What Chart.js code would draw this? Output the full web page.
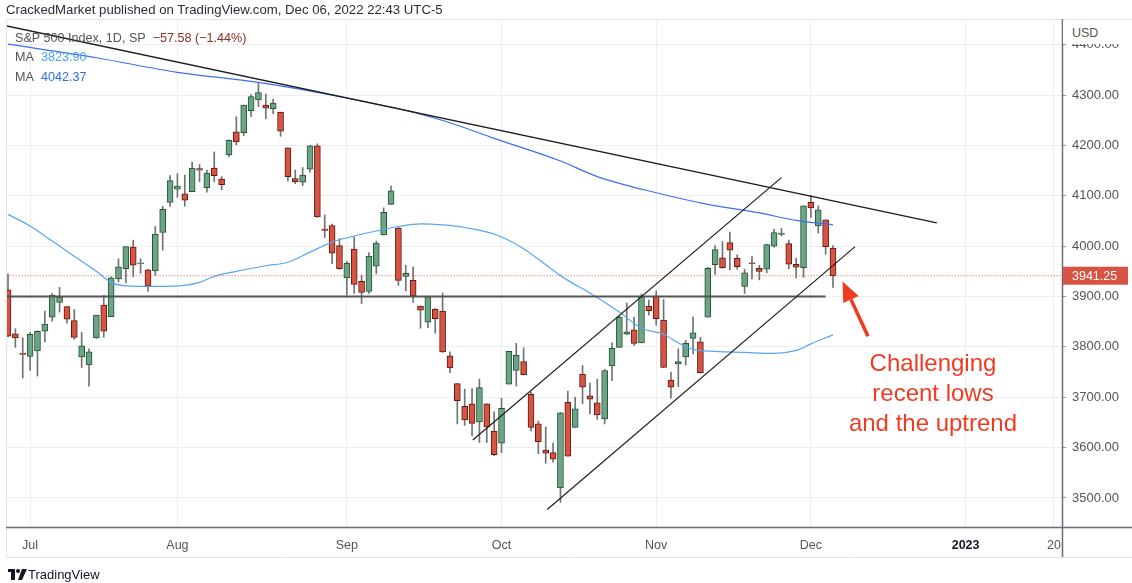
<!DOCTYPE html>
<html>
<head>
<meta charset="utf-8">
<script src="https://cdn.jsdelivr.net/npm/chart.js@4.4.0/dist/chart.umd.min.js"></script>
<style>
  html, body { margin: 0; padding: 0; background: #fff; }
  #wrap { position: relative; width: 1132px; height: 583px; overflow: hidden; font-family: "Liberation Sans", Arial, sans-serif; }
  #c { position: absolute; left: 0; top: 0; }
  .txt { position: absolute; white-space: nowrap; }
  .hdr { left: 6px; top: 2px; font-size: 13.2px; color: #2a2e39; }
  .leg { left: 15px; font-size: 12.6px; color: #555; }
  .usd { left: 1063px; top: 20px; width: 69px; height: 24px; background: #fff; font-size: 12.5px; color: #555; padding: 6px 0 0 9px; box-sizing: border-box; }
  .note { left: 833px; top: 348px; width: 200px; text-align: center; font-size: 24px; line-height: 30px; color: #ef3b24; }
  .foot { left: 28px; top: 567px; font-size: 13px; color: #131722; }
</style>
</head>
<body>
<div id="wrap">
  <canvas id="c" width="1132" height="583"></canvas>
  <div class="txt hdr">CrackedMarket published on TradingView.com, Dec 06, 2022 22:43 UTC-5</div>
  <div class="txt leg" style="top:31px">S&amp;P 500 Index, 1D, SP&nbsp;&nbsp;<span style="color:#8c2d22">−57.58 (−1.44%)</span></div>
  <div class="txt leg" style="top:50px">MA&nbsp;&nbsp;<span style="color:#4aa3f7">3823.90</span></div>
  <div class="txt leg" style="top:70px">MA&nbsp;&nbsp;<span style="color:#2f6bf3">4042.37</span></div>
  <div class="txt usd">USD</div>
  <div class="txt note">Challenging<br>recent lows<br>and the uptrend</div>
  <svg style="position:absolute;left:8px;top:569px" width="19" height="12" viewBox="0 0 19 12">
    <rect x="0" y="0" width="7" height="3" fill="#131722"/>
    <rect x="3" y="0" width="4" height="11" fill="#131722"/>
    <circle cx="10" cy="2" r="2" fill="#131722"/>
    <polygon points="14,0 19,0 14,11 10,11" fill="#131722"/>
  </svg>
  <div class="txt foot">TradingView</div>
</div>
<script>
// S&P 500 daily bars, Jun 28 2022 -> Dec 06 2022 (index = trading day)
const days = ['Jun 28','Jun 29','Jun 30','Jul 1','Jul 5','Jul 6','Jul 7','Jul 8','Jul 11','Jul 12','Jul 13','Jul 14','Jul 15',
  'Jul 18','Jul 19','Jul 20','Jul 21','Jul 22','Jul 25','Jul 26','Jul 27','Jul 28','Jul 29',
  'Aug 1','Aug 2','Aug 3','Aug 4','Aug 5','Aug 8','Aug 9','Aug 10','Aug 11','Aug 12','Aug 15','Aug 16','Aug 17','Aug 18','Aug 19',
  'Aug 22','Aug 23','Aug 24','Aug 25','Aug 26','Aug 29','Aug 30','Aug 31',
  'Sep 1','Sep 2','Sep 6','Sep 7','Sep 8','Sep 9','Sep 12','Sep 13','Sep 14','Sep 15','Sep 16','Sep 19','Sep 20','Sep 21','Sep 22','Sep 23',
  'Sep 26','Sep 27','Sep 28','Sep 29','Sep 30',
  'Oct 3','Oct 4','Oct 5','Oct 6','Oct 7','Oct 10','Oct 11','Oct 12','Oct 13','Oct 14','Oct 17','Oct 18','Oct 19','Oct 20','Oct 21',
  'Oct 24','Oct 25','Oct 26','Oct 27','Oct 28','Oct 31',
  'Nov 1','Nov 2','Nov 3','Nov 4','Nov 7','Nov 8','Nov 9','Nov 10','Nov 11','Nov 14','Nov 15','Nov 16','Nov 17','Nov 18',
  'Nov 21','Nov 22','Nov 23','Nov 25','Nov 28','Nov 29','Nov 30','Dec 1','Dec 2','Dec 5','Dec 6'];

const open = [3913,3826,3786,3781,3792,3831,3859,3888,3880,3852,3780,3764,3818,
  3883,3860,3935,3955,3998,3965,3953,3951,4027,4087,
  4113,4104,4108,4154,4116,4155,4133,4181,4227,4225,4269,4290,4280,4273,4266,
  4195,4134,4127,4153,4199,4034,4041,4001,
  3937,3994,3930,3910,3960,4022,4083,4036,3940,3932,3881,3849,3875,3871,3782,3727,
  3682,3687,3651,3687,3633,
  3609,3726,3753,3771,3706,3647,3595,3590,3520,3690,3640,3746,3703,3689,3657,
  3762,3799,3825,3834,3808,3881,
  3901,3853,3734,3766,3780,3817,3810,3859,3963,3977,4007,3976,3920,3966,
  3956,3954,4000,4023,4005,3964,3957,4087,4040,4052,3996];
const high = [3945,3836,3818,3829,3832,3871,3906,3918,3880,3874,3829,3796,3863,
  3902,3939,3975,3999,4012,3975,3954,4039,4079,4140,
  4144,4141,4167,4162,4151,4187,4138,4211,4257,4280,4301,4325,4302,4292,4266,
  4195,4151,4156,4200,4203,4062,4044,4015,
  3970,4018,3942,3987,4010,4076,4119,4037,3962,3959,3881,3900,3876,3907,3790,3727,
  3716,3717,3736,3687,3671,
  3698,3791,3807,3798,3710,3653,3641,3609,3670,3712,3700,3763,3728,3736,3755,
  3808,3862,3887,3859,3905,3893,
  3911,3894,3750,3796,3813,3859,3819,3958,4001,4009,4028,3983,3954,3979,
  3962,4004,4034,4035,4012,3976,4080,4101,4080,4052,4001];
const low = [3820,3799,3738,3753,3742,3810,3851,3869,3847,3815,3759,3722,3817,
  3819,3860,3929,3927,3939,3946,3910,3942,3992,4079,
  4097,4079,4108,4128,4107,4128,4112,4177,4201,4219,4257,4277,4253,4263,4218,
  4129,4124,4120,4147,4057,4017,3965,3954,
  3903,3906,3886,3906,3945,4022,4083,3922,3911,3888,3837,3838,3827,3789,3749,3647,
  3644,3623,3610,3610,3584,
  3590,3726,3722,3745,3633,3588,3569,3571,3491,3583,3640,3687,3667,3656,3647,
  3733,3799,3824,3803,3808,3863,
  3843,3759,3698,3721,3764,3786,3748,3859,3944,3956,3953,3954,3906,3935,
  3933,3947,3998,4020,3955,3937,3938,4057,4026,3984,3918];
const close = [3821,3818,3785,3825,3831,3845,3903,3899,3855,3819,3802,3790,3863,
  3831,3937,3959,3999,3962,3967,3921,4024,4073,4130,
  4119,4091,4155,4151,4145,4140,4122,4210,4207,4280,4297,4305,4274,4284,4228,
  4138,4128,4141,4199,4058,4031,3986,3955,
  3966,3924,3908,3980,4006,4067,4110,3932,3946,3901,3873,3900,3856,3790,3758,3693,
  3655,3648,3719,3641,3586,
  3678,3791,3783,3745,3640,3612,3589,3577,3669,3583,3677,3720,3696,3665,3753,
  3797,3859,3830,3807,3901,3872,
  3856,3759,3720,3771,3807,3828,3749,3956,3993,3957,3992,3959,3947,3965,
  3950,4003,4027,4026,3964,3958,4080,4076,4072,3999,3941.25];

// moving averages at some bars
const maFastAt  = [0,3,6,9,12,14,16,20,24,26,28,31,35,38,41,44,47,50,53,56,59,62,66,70,74,76,79,83,86,89,91,93,96,100,104,107,109,112];
const maFastVal = [4063,4040,4010,3980,3950,3928,3921,3920,3922,3928,3940,3950,3961,3968,3988,4008,4020,4030,4039,4044,4042,4037,4024,3995,3952,3932,3907,3869,3837,3825,3808,3795,3791,3789,3787,3793,3806,3823.9];
const maSlowAt  = [0,12,23,34,46,55,60,66,75,80,88,95,102,107,112];
const maSlowVal = [4401,4374,4345,4325,4294,4266,4245,4214,4169,4138,4106,4083,4066,4051,4042.37];

// drawn lines [barIndex, price]
const downTrend = [[-0.14, 4437], [126.1, 4046]];
const support = [[-0.14, 3900], [111, 3900]];
const chanTop = [[63.1, 3615], [105.0, 4136]];
const chanBottom = [[73.2, 3477], [115.0, 3999]];
const lastPrice = 3941.25;
const arrowFrom = [116.75, 3821];
const arrowTo = [113.3, 3930];

// axis ticks
const tickAt = [3, 23, 46, 67, 88, 109, 130, 142];
const tickText = ['Jul', 'Aug', 'Sep', 'Oct', 'Nov', 'Dec', '2023', '20'];
const priceTicks = [3500, 3600, 3700, 3800, 3900, 4000, 4100, 4200, 4300, 4400];

const UP = '#6ba583', UP_EDGE = '#225437', DN = '#d75442', DN_EDGE = '#5b1a13', WICK = '#737375';

const pts = arr => arr.map(p => ({ x: p[0], y: p[1] }));
const isUp = i => close[i] >= open[i];
const isYear = c => c.tick && tickText[tickAt.indexOf(c.tick.value)] === '2023';

const lineSet = (data, color, width, order, dash) => ({
  type: 'line', data, borderColor: color, borderWidth: width, borderDash: dash || [],
  pointRadius: 0, fill: false, order, tension: 0
});

const priceTag = {
  id: 'priceTag',
  afterDatasetsDraw(chart) {
    const { ctx, scales: { x, y } } = chart;
    // arrow
    const x0 = x.getPixelForValue(arrowFrom[0]), y0 = y.getPixelForValue(arrowFrom[1]);
    const x1 = x.getPixelForValue(arrowTo[0]), y1 = y.getPixelForValue(arrowTo[1]);
    const ang = Math.atan2(y1 - y0, x1 - x0);
    const head = 20, half = 8.5;
    const bx = x1 - head * Math.cos(ang), by = y1 - head * Math.sin(ang);
    ctx.save();
    ctx.strokeStyle = '#f03a22';
    ctx.fillStyle = '#f03a22';
    ctx.lineWidth = 3.5;
    ctx.beginPath(); ctx.moveTo(x0, y0); ctx.lineTo(bx, by); ctx.stroke();
    ctx.beginPath();
    ctx.moveTo(x1, y1);
    ctx.lineTo(bx + half * Math.sin(ang), by - half * Math.cos(ang));
    ctx.lineTo(bx - half * Math.sin(ang), by + half * Math.cos(ang));
    ctx.closePath(); ctx.fill();
    ctx.restore();
  },
  afterDraw(chart) {
    const { ctx, scales: { y }, chartArea: a } = chart;
    ctx.save();
    // frame
    ctx.strokeStyle = '#e0e3eb'; ctx.lineWidth = 1;
    ctx.beginPath();
    ctx.moveTo(6.5, 557.5); ctx.lineTo(6.5, 19.5); ctx.lineTo(1132, 19.5);
    ctx.moveTo(6.5, 557.5); ctx.lineTo(1132, 557.5);
    ctx.stroke();
    // axis lines
    ctx.strokeStyle = '#6a6d78'; ctx.lineWidth = 1.5;
    ctx.beginPath();
    ctx.moveTo(6, a.bottom + 0.5); ctx.lineTo(1132, a.bottom + 0.5);
    ctx.moveTo(a.right + 0.5, 19); ctx.lineTo(a.right + 0.5, 557);
    ctx.stroke();
    // last price tag
    const py = y.getPixelForValue(lastPrice);
    ctx.fillStyle = DN;
    ctx.fillRect(a.right + 1, py - 9, 65, 18);
    ctx.fillStyle = '#fff';
    ctx.font = '12.5px "Liberation Sans", Arial, sans-serif';
    ctx.textBaseline = 'middle';
    ctx.fillText(lastPrice.toFixed(2), a.right + 10, py + 0.5);
    ctx.restore();
  }
};

new Chart(document.getElementById('c'), {
  type: 'bar',
  data: {
    datasets: [
      lineSet(pts(downTrend), '#1e1e1e', 1.3, 0),
      lineSet(pts(chanTop), '#1e1e1e', 1.2, 0),
      lineSet(pts(chanBottom), '#1e1e1e', 1.2, 0),
      lineSet(pts(support), '#555', 1.8, 0),
      lineSet([{ x: -1, y: lastPrice }, { x: 150, y: lastPrice }], '#e0584a', 1, 0, [1, 2]),
      Object.assign(lineSet(maFastAt.map((v, i) => ({ x: v, y: maFastVal[i] })), '#55a7f6', 1.2, 1), { cubicInterpolationMode: 'monotone' }),
      Object.assign(lineSet(maSlowAt.map((v, i) => ({ x: v, y: maSlowVal[i] })), '#3a6ff5', 1.2, 1), { cubicInterpolationMode: 'monotone' }),
      {
        label: 'body', order: 2, grouped: false, barThickness: 6, minBarLength: 1,
        data: days.map((d, i) => ({ x: i, y: [open[i], close[i]] })),
        backgroundColor: c => isUp(c.dataIndex) ? UP : DN,
        borderColor: c => isUp(c.dataIndex) ? UP_EDGE : DN_EDGE,
        borderWidth: 1, borderSkipped: false
      },
      {
        label: 'wick', order: 3, grouped: false, barThickness: 1,
        data: days.map((d, i) => ({ x: i, y: [low[i], high[i]] })),
        backgroundColor: WICK, borderWidth: 0
      }
    ]
  },
  options: {
    responsive: false,
    animation: false,
    layout: { padding: { top: 20, left: 7, right: 0, bottom: 26 } },
    plugins: { legend: { display: false }, tooltip: { enabled: false } },
    scales: {
      x: {
        type: 'linear', min: -0.136, max: 143.09, offset: false,
        afterBuildTicks: s => { s.ticks = tickAt.map(v => ({ value: v })); },
        afterFit: s => { s.height = 30; },
        grid: { color: '#efefef', drawTicks: false, offset: false },
        border: { display: false },
        ticks: {
          autoSkip: false, maxRotation: 0, padding: 11,
          color: c => isYear(c) ? '#131722' : '#555',
          font: c => ({ family: '"Liberation Sans", Arial, sans-serif', size: 12.5, weight: isYear(c) ? 'bold' : 'normal' }),
          callback: v => tickText[tickAt.indexOf(v)] ?? ''
        }
      },
      y: {
        position: 'right', min: 3442.4, max: 4448.9,
        afterBuildTicks: s => { s.ticks = priceTicks.map(v => ({ value: v })); },
        afterFit: s => { s.width = 70; },
        grid: { color: '#efefef', tickLength: 4, tickColor: '#999' },
        border: { display: false },
        ticks: {
          padding: 6, color: '#555',
          font: { family: '"Liberation Sans", Arial, sans-serif', size: 13 },
          callback: v => v.toFixed(2)
        }
      }
    }
  },
  plugins: [priceTag]
});
</script>
</body>
</html>
